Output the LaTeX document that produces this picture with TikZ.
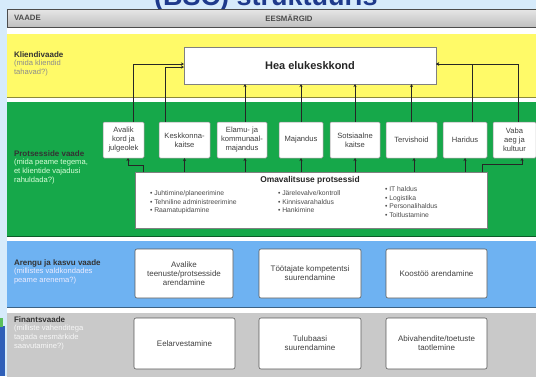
\documentclass[tikz,border=0pt]{standalone}
\usepackage{fontspec}
\setmainfont{Liberation Sans}
\usetikzlibrary{arrows.meta,calc}
\definecolor{bgblue}{HTML}{D6EBFB}
\definecolor{ttl}{HTML}{1E3A8C}
\definecolor{yel}{HTML}{FFFA68}
\definecolor{grn}{HTML}{16A84A}
\definecolor{blu}{HTML}{6EB2F2}
\definecolor{gry}{HTML}{C9C9C9}
\definecolor{decob}{HTML}{2F5FB8}
\definecolor{decog}{HTML}{5BBF5B}
\begin{document}
\begin{tikzpicture}[x=1pt,y=-1pt,
  every node/.style={inner sep=0pt, outer sep=0pt},
  pbox/.style={draw=black!45, fill=white, rounded corners=1.2pt, line width=0.5pt,
    minimum height=36pt, align=center, font=\fontsize{7.6}{9}\selectfont, text=black!75},
  gbox/.style={draw=black!65, fill=white, rounded corners=2pt, line width=0.6pt,
    align=center, font=\fontsize{8}{9}\selectfont, text=black!75},
  lbl/.style={anchor=north west, align=left, font=\fontsize{7.6}{8.6}\selectfont},
  lst/.style={anchor=north west, align=left, font=\fontsize{6.8}{8.5}\selectfont, text=black!70},
  hdrtxt/.style={font=\bfseries\fontsize{7.8}{9}\selectfont, text=black!70},
  arr/.style={draw=black!85, line width=0.5pt, -{Stealth[length=3pt,width=3pt]}},
]
\useasboundingbox (0,0) rectangle (536,376);
\clip (0,0) rectangle (536,376);
% slide background
\fill[bgblue] (0,0) rectangle (536,376);
\fill[decob] (0,326) rectangle (5,376);
\fill[decog] (0,318) rectangle (3,327);
% title (cut at top)
\node[anchor=base, font=\bfseries\fontsize{27}{30}\selectfont, text=ttl] (title) at (266,5) {(BSC) struktuuris};
% table background
\fill[white] (7,27) rectangle (540,380);
% header
\shade[top color=black!10, bottom color=black!25, draw=black!70, line width=0.6pt] (7,9.5) rectangle (540,27);
\node[hdrtxt, anchor=west] (hv) at (14,18) {VAADE};
\node[hdrtxt] (he) at (289,18) {EESMÄRGID};
% bands
\fill[yel] (7,34) rectangle (540,97);
\draw[yel!55!black, line width=0.6pt] (7,97) -- (540,97);
\fill[grn] (7,102) rectangle (540,236);
\draw[grn!55!black, line width=0.7pt] (7,236) -- (540,236);
\fill[blu] (7,241) rectangle (540,307);
\draw[blu!55!black, line width=0.7pt] (7,307) -- (540,307);
\fill[gry] (7,313) rectangle (540,380);
% left labels
\node[lbl] (l1) at (14,51.5) {\textcolor{black!80}{\bfseries\fontsize{8}{8.6}\selectfont Kliendivaade}\\\textcolor{black!45}{(mida kliendid}\\\textcolor{black!45}{tahavad?)}};
\node[lbl] (l2) at (14,150.5) {\textcolor{black!80}{\bfseries\fontsize{8}{8.6}\selectfont Protsesside vaade}\\\textcolor{green!15!white}{(mida peame tegema,}\\\textcolor{green!15!white}{et klientide vajadusi}\\\textcolor{green!15!white}{rahuldada?)}};
\node[lbl] (l3) at (14,259.5) {\textcolor{black!80}{\bfseries\fontsize{8}{8.6}\selectfont Arengu ja kasvu vaade}\\\textcolor{blue!8!white}{(millistes valdkondades}\\\textcolor{blue!8!white}{peame arenema?)}};
\node[lbl] (l4) at (14,316.5) {\textcolor{black!80}{\bfseries\fontsize{8}{8.6}\selectfont Finantsvaade}\\\textcolor{black!3}{(milliste vahenditega}\\\textcolor{black!3}{tagada eesmärkide}\\\textcolor{black!3}{saavutamine?)}};
% goal
\node[draw=black!50, fill=white, line width=0.5pt, minimum width=252pt, minimum height=37pt,
  font=\bfseries\fontsize{11}{12}\selectfont, text=black!85] (hea) at (310,65.5) {Hea elukeskkond};
% process boxes
\node[pbox, minimum width=41pt] (avalik) at (123.5,140) {Avalik\\kord ja\\julgeolek};
\node[pbox, minimum width=51pt] (kesk) at (184.5,140) {Keskkonna-\\kaitse};
\node[pbox, minimum width=50pt] (elamu) at (242,140) {Elamu- ja\\kommunaal-\\majandus};
\node[pbox, minimum width=44pt] (maj) at (301,140) {Majandus};
\node[pbox, minimum width=50pt] (sots) at (355,140) {Sotsiaalne\\kaitse};
\node[pbox, minimum width=51pt] (terv) at (411.5,140) {Tervishoid};
\node[pbox, minimum width=44pt] (har) at (465,140) {Haridus};
\node[pbox, minimum width=43pt] (vaba) at (514.5,140) {Vaba\\aeg ja\\kultuur};
% omavalitsuse protsessid
\node[draw=black!50, fill=white, line width=0.5pt, minimum width=352pt, minimum height=56pt] (omav) at (311,200) {};
\node[font=\bfseries\fontsize{8.4}{10}\selectfont, text=black!85] (omt) at (310,180) {Omavalitsuse protsessid};
\node[lst] (c1) at (150,190.8) {• Juhtimine/planeerimine\\• Tehniline administreerimine\\• Raamatupidamine};
\node[lst] (c2) at (278,190.8) {• Järelevalve/kontroll\\• Kinnisvarahaldus\\• Hankimine};
\node[lst] (c3) at (385,186.8) {• IT haldus\\• Logistika\\• Personalihaldus\\• Toitlustamine};
% development boxes
\node[gbox, minimum width=98pt, minimum height=49pt] (b1) at (184,273.5) {Avalike\\teenuste/protsesside\\arendamine};
\node[gbox, minimum width=102pt, minimum height=49pt] (b2) at (310,273.5) {Töötajate kompetentsi\\suurendamine};
\node[gbox, minimum width=101pt, minimum height=49pt] (b3) at (436.5,273.5) {Koostöö arendamine};
% finance boxes
\node[gbox, minimum width=101pt, minimum height=51pt] (f1) at (184.5,343.5) {Eelarvestamine};
\node[gbox, minimum width=102pt, minimum height=51pt] (f2) at (310,343.5) {Tulubaasi\\suurendamine};
\node[gbox, minimum width=101pt, minimum height=51pt] (f3) at (436.5,343.5) {Abivahendite/toetuste\\taotlemine};
% arrows: processes -> goal
\coordinate (eu) at ($(elamu.north)+(3,0)$);
\draw[arr] ($(avalik.north)+(9.5,0)$) |- ($(hea.west)+(0,-1.5)$);
\draw[arr] ($(kesk.north)+(-19.5,0)$) |- ($(hea.west)+(0,1.5)$);
\draw[arr] (eu) -- (eu |- hea.south);
\draw[arr] (maj.north) -- (maj.north |- hea.south);
\draw[arr] (sots.north) -- (sots.north |- hea.south);
\draw[arr] (terv.north) -- (terv.north |- hea.south);
\draw[arr] ($(har.north)+(7,0)$) |- ($(hea.east)+(0,-1.5)$);
\draw[arr] ($(vaba.north)+(3.5,0)$) |- ($(hea.east)+(0,-1.5)$);
% arrows: omavalitsuse protsessid -> processes
\coordinate (es) at ($(elamu.south)+(3,0)$);
\coordinate (ts) at ($(terv.south)+(2.5,0)$);
\draw[arr] ($(omav.north west)+(8,0)$) -- ++(0,-7) -| ($(avalik.south)+(4.5,0)$);
\draw[arr] (omav.north -| kesk.south) -- (kesk.south);
\draw[arr] (omav.north -| es) -- (es);
\draw[arr] (omav.north -| maj.south) -- (maj.south);
\draw[arr] (omav.north -| sots.south) -- (sots.south);
\draw[arr] (omav.north -| ts) -- (ts);
\draw[arr] (omav.north -| har.south) -- (har.south);
\draw[arr] ($(omav.north east)+(-5,0)$) -- ++(0,-8) -| ($(vaba.south)+(7.5,0)$);
\end{tikzpicture}
\end{document}
